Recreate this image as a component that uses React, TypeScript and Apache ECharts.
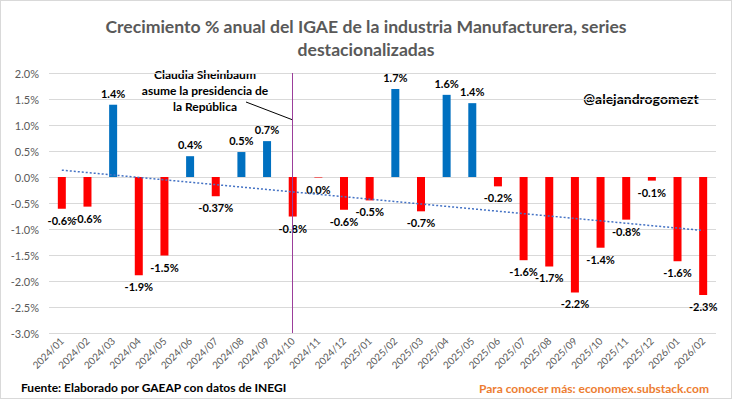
import React, { useEffect, useRef } from "react";
import * as echarts from "echarts";

const categories = [
  "2024/01", "2024/02", "2024/03", "2024/04", "2024/05", "2024/06", "2024/07", "2024/08", "2024/09",
  "2024/10", "2024/11", "2024/12", "2025/01", "2025/02", "2025/03", "2025/04", "2025/05", "2025/06",
  "2025/07", "2025/08", "2025/09", "2025/10", "2025/11", "2025/12", "2026/01", "2026/02",
];
const values = [
  -0.61, -0.57, 1.39, -1.89, -1.51, 0.4, -0.37, 0.48, 0.69, -0.76, -0.01, -0.63, -0.45, 1.69, -0.66,
  1.58, 1.42, -0.18, -1.6, -1.72, -2.22, -1.36, -0.82, -0.07, -1.62, -2.27,
];
const valueLabels = [
  "-0.6%", "-0.6%", "1.4%", "-1.9%", "-1.5%", "0.4%", "-0.37%", "0.5%", "0.7%", "-0.8%", "0.0%", "-0.6%",
  "-0.5%", "1.7%", "-0.7%", "1.6%", "1.4%", "-0.2%", "-1.6%", "-1.7%", "-2.2%", "-1.4%", "-0.8%", "-0.1%",
  "-1.6%", "-2.3%",
];
const markerCategory = "2024/10";
const annotationLines = ["Claudia Sheinbaum", "asume la presidencia de", "la República"];
const titleText = "Crecimiento % anual del IGAE de la industria Manufacturera, series\ndestacionalizadas";
const handle = "@alejandrogomezt";
const sourceText = "Fuente: Elaborado por GAEAP con datos de INEGI";
const moreText = "Para conocer más: economex.substack.com";

function trend(vals: number[]): number[] {
  const n = vals.length;
  const xs = vals.map((_, i) => i + 1);
  const mx = xs.reduce((a, b) => a + b, 0) / n;
  const my = vals.reduce((a, b) => a + b, 0) / n;
  let num = 0, den = 0;
  xs.forEach((x, i) => { num += (x - mx) * (vals[i] - my); den += (x - mx) * (x - mx); });
  const b = num / den;
  const a = my - b * mx;
  return xs.map((x) => +(a + b * x).toFixed(4));
}

const FONT = "Lato, 'Open Sans', sans-serif";

function txt(text: string, x: number, y: number, align: string, font: string, fill: string) {
  return {
    type: "text",
    x,
    y,
    style: { text, align, verticalAlign: "middle", font, fill },
  };
}

export default function App() {
  const ref = useRef<HTMLDivElement>(null);
  useEffect(() => {
    document.body.style.margin = "0";
    const chart = echarts.init(ref.current!, null, { renderer: "svg" });
    chart.setOption({
      animation: false,
      backgroundColor: "#ffffff",
      textStyle: { fontFamily: FONT },
      title: {
        text: titleText,
        left: "center",
        top: 9,
        textStyle: { fontSize: 17.6, fontWeight: "bold", color: "#595959", fontFamily: FONT, lineHeight: 23 },
      },
      grid: { left: 48, right: 15, top: 72, bottom: 65 },
      xAxis: {
        type: "category",
        data: categories,
        axisLine: { show: false },
        axisTick: { show: false },
        axisLabel: { rotate: 45, fontSize: 10, color: "#595959", margin: 6, fontFamily: FONT, interval: 0 },
      },
      yAxis: {
        type: "value",
        min: -3,
        max: 2,
        interval: 0.5,
        axisLabel: {
          formatter: (v: number) => v.toFixed(1) + "%",
          fontSize: 11,
          color: "#595959",
          margin: 10,
          fontFamily: FONT,
        },
        splitLine: { lineStyle: { color: "#D9D9D9" } },
        axisLine: { show: false },
        axisTick: { show: false },
      },
      series: [
        {
          type: "bar",
          barWidth: 8,
          data: values.map((v, i) => ({
            value: v,
            itemStyle: { color: v >= 0 ? "#0070C0" : "#FF0000" },
            label: {
              show: true,
              position: v >= 0 ? "top" : "bottom",
              distance: 6,
              formatter: valueLabels[i],
              fontSize: 11,
              fontWeight: "bold",
              color: "#000000",
              fontFamily: FONT,
            },
          })),
          markLine: {
            symbol: "none",
            silent: true,
            label: { show: false },
            lineStyle: { color: "#9B3E9B", type: "solid", width: 1 },
            data: [{ xAxis: markerCategory }],
          },
          z: 2,
        },
        {
          type: "line",
          data: trend(values),
          symbol: "none",
          lineStyle: { color: "#4472C4", type: [2, 2], width: 1.5 },
          z: 3,
        },
      ],
      graphic: [
        ...annotationLines.map((t, i) => txt(t, 204, 73 + i * 16, "center", `bold 12px ${FONT}`, "#000000")),
        {
          type: "line",
          shape: { x1: 245, y1: 101, x2: 292, y2: 119 },
          style: { stroke: "#000000", lineWidth: 1 },
        },
        txt(handle, 640, 97, "center", `bold 14px ${FONT}`, "#000000"),
        txt(sourceText, 20, 386, "left", `bold 12px ${FONT}`, "#000000"),
        txt(moreText, 708, 387, "right", `bold 12px ${FONT}`, "#ED7D31"),
      ],
    });
    return () => chart.dispose();
  }, []);
  return (
    <div
      ref={ref}
      style={{ width: 730, height: 397, border: "1px solid #D9D9D9", background: "#fff" }}
    />
  );
}
